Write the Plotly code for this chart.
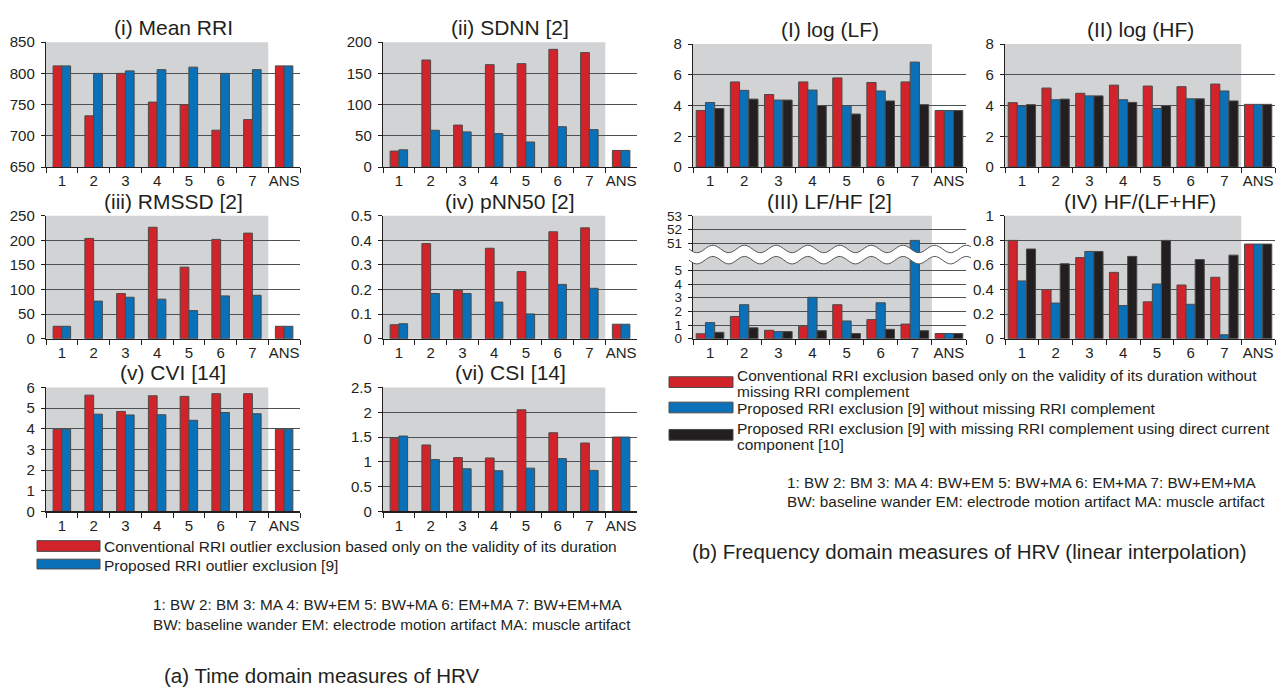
import math
import plotly.graph_objects as go

W, H = 1288, 694

# ---------------- data ----------------
categories = ["1", "2", "3", "4", "5", "6", "7", "ANS"]

mean_rri_conv = [812, 732, 800, 754, 750, 709, 726, 812]
mean_rri_prop = [812, 800, 804, 806, 810, 800, 806, 812]
sdnn_conv = [25.5, 171.4, 67.2, 164, 165.6, 188.5, 183.3, 26.6]
sdnn_prop = [27.6, 58.9, 56.3, 53.6, 40.1, 64.6, 59.9, 26.6]
rmssd_conv = [25.3, 204, 91.8, 226.7, 145.6, 202, 214.8, 25.3]
rmssd_prop = [25.3, 76.5, 84.4, 80.5, 57.2, 87.1, 88.4, 25.3]
pnn50_conv = [0.057, 0.387, 0.197, 0.368, 0.273, 0.435, 0.451, 0.059]
pnn50_prop = [0.061, 0.184, 0.184, 0.149, 0.101, 0.221, 0.205, 0.059]
cvi_conv = [3.98, 5.63, 4.84, 5.6, 5.57, 5.7, 5.7, 3.98]
cvi_prop = [3.98, 4.71, 4.67, 4.68, 4.41, 4.79, 4.73, 3.98]
csi_conv = [1.475, 1.34, 1.085, 1.078, 2.05, 1.587, 1.38, 1.5]
csi_prop = [1.52, 1.045, 0.86, 0.82, 0.873, 1.065, 0.827, 1.5]

loglf_conv = [3.68, 5.54, 4.72, 5.54, 5.8, 5.5, 5.54, 3.68]
loglf_prop = [4.2, 4.99, 4.36, 5.01, 4.0, 4.95, 6.83, 3.68]
loglf_comp = [3.81, 4.42, 4.36, 4.0, 3.45, 4.3, 4.06, 3.68]
loghf_conv = [4.19, 5.14, 4.8, 5.33, 5.27, 5.23, 5.4, 4.08]
loghf_prop = [3.98, 4.38, 4.63, 4.38, 3.81, 4.44, 4.95, 4.08]
loghf_comp = [4.06, 4.42, 4.63, 4.21, 4.0, 4.44, 4.3, 4.08]
lfhf_conv = [0.36, 1.63, 0.62, 0.92, 2.49, 1.4, 1.07, 0.38]
lfhf_prop = [1.18, 2.49, 0.52, 3.03, 1.3, 2.63, 51.2, 0.38]
lfhf_comp = [0.47, 0.8, 0.52, 0.59, 0.38, 0.69, 0.59, 0.38]
hfr_conv = [0.8, 0.4, 0.66, 0.54, 0.3, 0.437, 0.5, 0.77]
hfr_prop = [0.47, 0.29, 0.71, 0.27, 0.445, 0.28, 0.032, 0.77]
hfr_comp = [0.73, 0.61, 0.71, 0.67, 0.8, 0.644, 0.68, 0.77]

mean_rri_ticks = [650, 700, 750, 800, 850]
sdnn_ticks = [0, 50, 100, 150, 200]
rmssd_ticks = [0, 50, 100, 150, 200, 250]
pnn50_ticks = [0, 0.1, 0.2, 0.3, 0.4, 0.5]
cvi_ticks = [0, 1, 2, 3, 4, 5, 6]
csi_ticks = [0, 0.5, 1, 1.5, 2, 2.5]
log_ticks = [0, 2, 4, 6, 8]
lfhf_ticks = [0, 1, 2, 3, 4, 5, 51, 52, 53]
hfr_ticks = [0, 0.2, 0.4, 0.6, 0.8, 1]

legend_a = ["Conventional RRI outlier exclusion based only on the validity of its duration",
            "Proposed RRI outlier exclusion [9]"]
legend_b = [["Conventional RRI exclusion based only on the validity of its duration without",
             "missing RRI complement"],
            ["Proposed RRI exclusion [9] without missing RRI complement"],
            ["Proposed RRI exclusion [9] with missing RRI complement using direct current",
             "component [10]"]]
note_1 = "1: BW 2: BM 3: MA 4: BW+EM 5: BW+MA 6: EM+MA 7: BW+EM+MA"
note_2 = "BW: baseline wander EM: electrode motion artifact MA: muscle artifact"
caption_a = "(a) Time domain measures of HRV"
caption_b = "(b) Frequency domain measures of HRV (linear interpolation)"

# ---------------- style ----------------
RED = "#d2232a"
BLUE = "#0a70b8"
BLACK = "#231f20"
GRAY = "#d1d3d4"
GRID = "#4f5054"
TXT = "#231f20"
FONT = "Liberation Sans, Arial, sans-serif"

BREAK_LOW, BREAK_SHIFT = 6, 44   # values above 6 on the LF/HF axis are shifted by 44


def to_break(v):
    return v if v <= BREAK_LOW else v - BREAK_SHIFT


def px(x):
    return x / W


def py(y):
    return 1 - y / H


def fmt(v):
    return f"{v:g}"


panels = [
    # title, (L, R, T, B), series, yrange, ticks
    ("(i) Mean RRI", (46, 300, 34, 162), [mean_rri_conv, mean_rri_prop], [650, 850], mean_rri_ticks),
    ("(ii) SDNN [2]", (383, 637, 34, 162), [sdnn_conv, sdnn_prop], [0, 200], sdnn_ticks),
    ("(iii) RMSSD [2]", (46, 300, 212, 338), [rmssd_conv, rmssd_prop], [0, 250], rmssd_ticks),
    ("(iv) pNN50 [2]", (383, 637, 212, 338), [pnn50_conv, pnn50_prop], [0, 0.5], pnn50_ticks),
    ("(v) CVI [14]", (46, 300, 388, 515), [cvi_conv, cvi_prop], [0, 6], cvi_ticks),
    ("(vi) CSI [14]", (383, 637, 388, 515), [csi_conv, csi_prop], [0, 2.5], csi_ticks),
    ("(I) log (LF)", (693, 966, 36, 162), [loglf_conv, loglf_prop, loglf_comp], [0, 8], log_ticks),
    ("(II) log (HF)", (1005, 1275, 36, 162), [loghf_conv, loghf_prop, loghf_comp], [0, 8], log_ticks),
    ("(III) LF/HF [2]", (693, 966, 212, 338), [lfhf_conv, lfhf_prop, lfhf_comp], [0, 9], lfhf_ticks),
    ("(IV) HF/(LF+HF)", (1005, 1275, 212, 338), [hfr_conv, hfr_prop, hfr_comp], [0, 1], hfr_ticks),
]

fig = go.Figure()
layout = dict(
    width=W, height=H, autosize=False,
    margin=dict(l=0, r=0, t=0, b=0),
    paper_bgcolor="white", plot_bgcolor="white",
    barmode="overlay", showlegend=False,
    font=dict(family=FONT, color=TXT, size=15),
)
shapes = []
annotations = []

colors3 = [RED, BLUE, BLACK]
for i, (title, (L, R, T, B), series, yr, ticks) in enumerate(panels):
    n = i + 1
    xa = "x" if n == 1 else f"x{n}"
    ya = "y" if n == 1 else f"y{n}"
    broken = title.startswith("(III)")
    k = len(series)
    if k == 2:
        wdt, offs = 0.275, [-0.275, 0.0]
    else:
        wdt, offs = 0.27, [-0.405, -0.135, 0.135]
    for j, vals in enumerate(series):
        yv = [to_break(v) for v in vals] if broken else vals
        fig.add_trace(go.Bar(
            x=categories, y=yv, xaxis=xa, yaxis=ya,
            width=wdt, offset=offs[j],
            marker=dict(color=colors3[j], line=dict(color="#4a4a4a", width=1)),
            hoverinfo="skip",
        ))
    tickvals = [to_break(v) for v in ticks] if broken else ticks
    layout["xaxis" if n == 1 else f"xaxis{n}"] = dict(
        domain=[px(L), px(R)], anchor=ya, type="category",
        range=[-0.5, 7.5], showline=True, linecolor=TXT, linewidth=1.2,
        ticks="outside", tickson="boundaries", ticklen=5, tickcolor=TXT,
        tickangle=0,
        showgrid=False, tickfont=dict(size=15, color=TXT), fixedrange=True,
    )
    layout["yaxis" if n == 1 else f"yaxis{n}"] = dict(
        domain=[py(B), py(T)], anchor=xa, range=yr,
        tickvals=tickvals, ticktext=[fmt(v) for v in ticks],
        showline=True, linecolor=TXT, linewidth=1.2,
        ticks="outside", ticklen=4, tickcolor=TXT, ticklabelstandoff=3,
        showgrid=True, gridcolor=GRID, gridwidth=1, zeroline=False,
        tickfont=dict(size=13.5 if broken else 15, color=TXT), fixedrange=True,
    )
    # grey background behind cases 1-7
    shapes.append(dict(type="rect", xref=f"{xa} domain", yref=f"{ya} domain",
                       x0=0, x1=7 / 8, y0=0, y1=1, fillcolor=GRAY,
                       line=dict(width=0), layer="below"))
    # title
    annotations.append(dict(text=title, x=px((L + R) / 2), y=py(T - 15),
                            xref="paper", yref="paper", showarrow=False,
                            xanchor="center", yanchor="middle",
                            font=dict(size=21, color=TXT)))

# ---- axis break (wavy band) on LF/HF panel ----
def wave(yc, x0, x1, amp=3.8, period=31.7, step=1.5):
    pts = []
    x = x0
    while x <= x1 + 1e-9:
        pts.append((x, yc + amp * math.sin(2 * math.pi * (x - x0) / period)))
        x += step
    return pts

top_w = wave(246.0, 689, 972)
bot_w = wave(257.5, 689, 972)
band = "M " + " L ".join(f"{px(x):.5f},{py(y):.5f}" for x, y in top_w)
band += " L " + " L ".join(f"{px(x):.5f},{py(y):.5f}" for x, y in reversed(bot_w)) + " Z"
shapes.append(dict(type="path", path=band, xref="paper", yref="paper",
                   fillcolor="white", line=dict(width=0), layer="above"))
for w in (top_w, bot_w):
    p = "M " + " L ".join(f"{px(x):.5f},{py(y):.5f}" for x, y in w)
    shapes.append(dict(type="path", path=p, xref="paper", yref="paper",
                       line=dict(color="#555", width=1), layer="above"))

# ---- manual legends ----
def swatch(x0, x1, y0, y1, color):
    shapes.append(dict(type="rect", xref="paper", yref="paper",
                       x0=px(x0), x1=px(x1), y0=py(y1), y1=py(y0),
                       fillcolor=color, line=dict(color="#4a4a4a", width=1)))


def text(s, x, y, size=15.5, anchor="left"):
    annotations.append(dict(text=s, x=px(x), y=py(y), xref="paper", yref="paper",
                            showarrow=False, xanchor=anchor, yanchor="middle",
                            font=dict(size=size, color=TXT)))

swatch(37, 100, 545, 556, RED)
swatch(37, 100, 564, 574, BLUE)
text(legend_a[0], 102, 550.5)
text(legend_a[1], 102, 570)

swatch(669, 733, 377, 388, RED)
swatch(669, 733, 403, 414, BLUE)
swatch(669, 733, 431, 442, BLACK)
text(legend_b[0][0], 735, 376)
text(legend_b[0][1], 735, 392)
text(legend_b[1][0], 735, 410)
text(legend_b[2][0], 735, 430)
text(legend_b[2][1], 735, 446)

text(note_1, 151, 610, size=15.3)
text(note_2, 151, 631, size=15.3)
text(note_1, 785, 485, size=15.3)
text(note_2, 785, 505, size=15.3)

text(caption_a, 162, 683, size=20.5)
text(caption_b, 690, 556, size=20.5)

layout["shapes"] = shapes
layout["annotations"] = annotations
fig.update_layout(**layout)

fig.write_html("out.html", config={"displayModeBar": False, "staticPlot": True},
               post_script="document.body.style.margin='0';document.body.style.padding='0';")
